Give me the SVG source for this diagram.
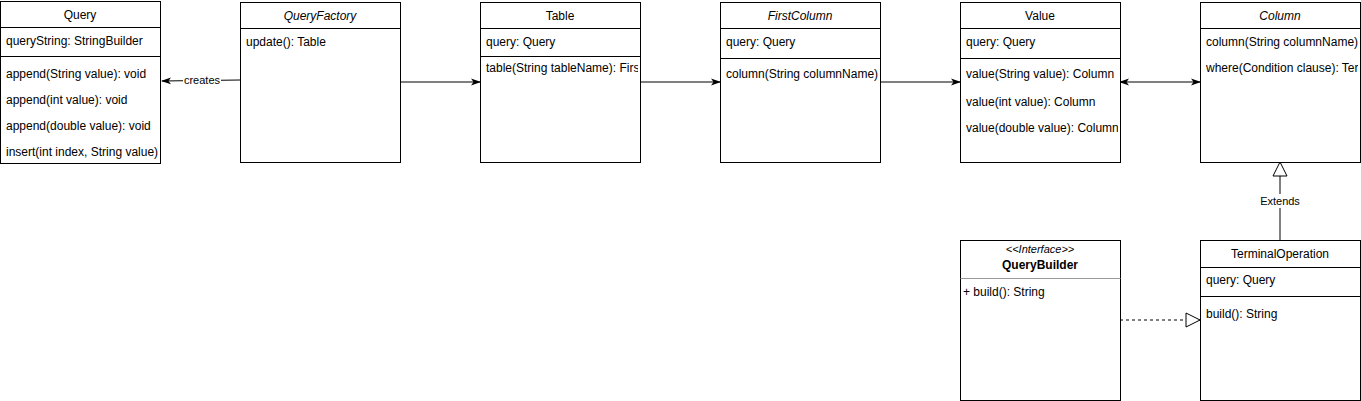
<svg xmlns="http://www.w3.org/2000/svg" width="1361" height="401" viewBox="0 0 1361 401">
<style>
text{font-family:"Liberation Sans",Arial,Helvetica,sans-serif;font-size:12px;fill:#000}
.c{text-anchor:middle}
.i{font-style:italic}
.b{font-weight:bold}
.box{fill:#fff;stroke:#000;stroke-width:1}
.div{stroke:#000;stroke-width:1}
.edge{fill:none;stroke:#000;stroke-width:1}
.lbl{font-size:11px}
</style>
<defs>
<marker id="arr" viewBox="0 0 10 10" refX="9" refY="5" markerWidth="10" markerHeight="10" markerUnits="userSpaceOnUse" orient="auto-start-reverse">
<path d="M0,1.5 L10,5 L0,8.5 L2.5,5 Z" fill="#000"/>
</marker>
<marker id="tri" viewBox="0 0 16 16" refX="15" refY="8" markerWidth="16" markerHeight="16" markerUnits="userSpaceOnUse" orient="auto">
<path d="M1,1 L15,8 L1,15 Z" fill="#fff" stroke="#000"/>
</marker>
<clipPath id="clipTable"><rect x="480" y="2" width="158" height="160"/></clipPath>
<clipPath id="clipValue"><rect x="960" y="2" width="158" height="160"/></clipPath>
<clipPath id="clipColumn"><rect x="1200" y="2" width="158" height="160"/></clipPath>
<clipPath id="clipQuery"><rect x="0" y="1" width="159" height="163"/></clipPath>
</defs>

<g id="connectors">
<path class="edge" d="M240,80 L162,81" marker-end="url(#arr)"/>
<rect x="183" y="74" width="38" height="13" fill="#fff"/>
<text class="lbl c" x="202" y="84">creates</text>
<path class="edge" d="M400,82 L480,82" marker-end="url(#arr)"/>
<path class="edge" d="M640,82 L720,82" marker-end="url(#arr)"/>
<path class="edge" d="M880,82 L960,82" marker-end="url(#arr)"/>
<path class="edge" d="M1120,82 L1200,82" marker-start="url(#arr)" marker-end="url(#arr)"/>
<path class="edge" d="M1280,240 L1280,162" marker-end="url(#tri)"/>
<rect x="1258" y="194" width="44" height="14" fill="#fff"/>
<text class="lbl c" x="1280" y="205">Extends</text>
<path class="edge" d="M1120,320 L1200,320" stroke-dasharray="3,3" marker-end="url(#tri)"/>
</g>

<g id="Query">
<rect class="box" x="0.5" y="1.5" width="160" height="162"/>
<line class="div" x1="0.5" y1="27.5" x2="160.5" y2="27.5"/>
<line class="div" x1="0.5" y1="56.5" x2="160.5" y2="56.5"/>
<text class="c" x="80" y="19">Query</text>
<g clip-path="url(#clipQuery)">
<text x="6" y="45">queryString: StringBuilder</text>
<text x="6" y="78">append(String value): void</text>
<text x="6" y="104">append(int value): void</text>
<text x="6" y="130">append(double value): void</text>
<text x="6" y="156">insert(int index, String value)</text>
</g>
</g>

<g id="QueryFactory">
<rect class="box" x="240.5" y="2.5" width="160" height="160"/>
<line class="div" x1="240.5" y1="28.5" x2="400.5" y2="28.5"/>
<text class="c i" x="320" y="20">QueryFactory</text>
<text x="246" y="46">update(): Table</text>
</g>

<g id="Table">
<rect class="box" x="480.5" y="2.5" width="160" height="160"/>
<line class="div" x1="480.5" y1="28.5" x2="640.5" y2="28.5"/>
<line class="div" x1="480.5" y1="56.5" x2="640.5" y2="56.5"/>
<text class="c" x="560" y="20">Table</text>
<text x="486" y="46">query: Query</text>
<g clip-path="url(#clipTable)"><text x="486" y="72">table(String tableName): FirstColumn</text></g>
</g>

<g id="FirstColumn">
<rect class="box" x="720.5" y="2.5" width="160" height="160"/>
<line class="div" x1="720.5" y1="28.5" x2="880.5" y2="28.5"/>
<line class="div" x1="720.5" y1="58.5" x2="880.5" y2="58.5"/>
<text class="c i" x="800" y="20">FirstColumn</text>
<text x="726" y="46">query: Query</text>
<text x="726" y="78">column(String columnName)</text>
</g>

<g id="Value">
<rect class="box" x="960.5" y="2.5" width="160" height="160"/>
<line class="div" x1="960.5" y1="28.5" x2="1120.5" y2="28.5"/>
<line class="div" x1="960.5" y1="58.5" x2="1120.5" y2="58.5"/>
<text class="c" x="1040" y="20">Value</text>
<text x="966" y="46">query: Query</text>
<g clip-path="url(#clipValue)">
<text x="966" y="78">value(String value): Column</text>
<text x="966" y="106">value(int value): Column</text>
<text x="966" y="132">value(double value): Column</text>
</g>
</g>

<g id="Column">
<rect class="box" x="1200.5" y="2.5" width="160" height="160"/>
<line class="div" x1="1200.5" y1="28.5" x2="1360.5" y2="28.5"/>
<text class="c i" x="1280" y="20">Column</text>
<g clip-path="url(#clipColumn)">
<text x="1206" y="46">column(String columnName)</text>
<text x="1206" y="72">where(Condition clause): TerminalOperation</text>
</g>
</g>

<g id="QueryBuilder">
<rect class="box" x="960.5" y="240.5" width="160" height="160"/>
<line x1="960.5" y1="278.5" x2="1120.5" y2="278.5" stroke="#999" stroke-width="1"/>
<text class="c i lbl" x="1040" y="253">&lt;&lt;Interface&gt;&gt;</text>
<text class="c b" x="1040" y="269">QueryBuilder</text>
<text x="963" y="296">+ build(): String</text>
</g>

<g id="TerminalOperation">
<rect class="box" x="1200.5" y="240.5" width="160" height="160"/>
<line class="div" x1="1200.5" y1="267.5" x2="1360.5" y2="267.5"/>
<line class="div" x1="1200.5" y1="296.5" x2="1360.5" y2="296.5"/>
<text class="c" x="1280" y="258">TerminalOperation</text>
<text x="1206" y="284">query: Query</text>
<text x="1206" y="318">build(): String</text>
</g>
</svg>
